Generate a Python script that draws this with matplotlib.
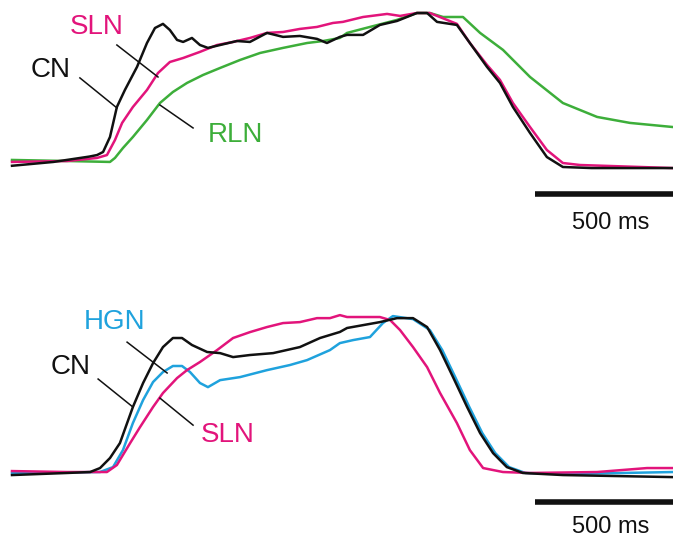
"""
Laryngeal nerve activity traces: two panels of normalised discharge vs time.

Top    — CN, SLN, RLN
Bottom — CN, HGN, SLN
Each panel has a 500 ms scale bar instead of axes.
"""

import matplotlib
matplotlib.use("Agg")
import matplotlib.pyplot as plt

plt.rcParams["font.family"] = ["Liberation Sans", "DejaVu Sans"]

# ── Colours ───────────────────────────────────────────────────────────────────
BLACK   = "#111111"
MAGENTA = "#e2147b"
GREEN   = "#3dae3a"
BLUE    = "#1fa2dd"

# ── Top panel traces (time in ms, amplitude in % of peak) ─────────────────────
TOP_CN_T = [0, 150, 280, 308, 330, 355, 380, 409, 453, 489, 518, 547, 572, 598,
            620, 652, 681, 710, 754, 815, 862, 924, 982, 1043, 1105, 1141, 1188,
            1214, 1272, 1333, 1395, 1431, 1467, 1504, 1540, 1587, 1612, 1659,
            1721, 1768, 1815, 1877, 1938, 1996, 2100, 2395]
TOP_CN_A = [-0.5, 2.0, 5.5, 6.5, 8.5, 18.3, 37.9, 49.0, 64.1, 79.7, 89.5, 92.2,
            88.2, 81.7, 80.4, 83.0, 78.4, 76.5, 78.4, 81.0, 80.4, 86.3, 83.7,
            84.3, 82.4, 79.7, 83.7, 85.0, 85.0, 91.5, 94.1, 96.7, 99.3, 99.3,
            93.5, 92.2, 91.5, 79.7, 64.1, 53.6, 37.9, 20.9, 5.2, -1.3, -2.0,
            -2.0]

TOP_SLN_T = [0, 200, 308, 344, 373, 399, 438, 489, 529, 572, 620, 681, 743, 801,
             862, 924, 982, 1043, 1105, 1163, 1199, 1272, 1359, 1406, 1467, 1514,
             1576, 1612, 1659, 1721, 1768, 1815, 1877, 1938, 1996, 2058, 2395]
TOP_SLN_A = [2.0, 2.6, 4.6, 6.5, 16.3, 27.5, 37.9, 49.0, 60.1, 67.3, 69.9, 73.9,
             78.4, 80.4, 83.0, 86.3, 86.9, 88.9, 90.2, 92.8, 93.5, 96.7, 98.7,
             97.4, 99.3, 99.3, 94.8, 92.2, 79.7, 65.4, 55.6, 40.5, 24.8, 9.8,
             1.3, 0.0, -2.0]

TOP_RLN_T = [0, 200, 355, 373, 402, 438, 489, 536, 583, 634, 692, 754, 826, 899,
             982, 1069, 1127, 1188, 1214, 1297, 1395, 1467, 1514, 1562, 1634,
             1696, 1779, 1877, 1996, 2120, 2239, 2395]
TOP_RLN_A = [3.3, 2.6, 2.0, 4.6, 11.1, 18.3, 29.4, 40.5, 47.7, 53.6, 58.8, 63.4,
             68.6, 73.2, 76.5, 79.7, 81.0, 83.0, 86.3, 90.2, 94.8, 99.3, 99.3,
             96.7, 96.7, 86.3, 75.2, 57.5, 40.5, 31.4, 27.5, 24.8]

# ── Bottom panel traces ───────────────────────────────────────────────────────
BOT_CN_T = [0, 199, 283, 319, 355, 391, 438, 475, 511, 547, 583, 616, 652, 707,
            754, 801, 862, 946, 1043, 1116, 1188, 1214, 1333, 1395, 1453, 1504,
            1551, 1598, 1649, 1696, 1743, 1793, 1851, 1996, 2395]
BOT_CN_A = [0.0, 1.3, 1.9, 4.4, 10.7, 20.1, 42.8, 57.9, 70.4, 80.5, 86.2, 86.2,
            81.8, 77.4, 76.7, 74.2, 75.5, 76.7, 80.5, 86.2, 90.0, 92.5, 96.2,
            98.7, 98.7, 93.1, 78.6, 61.6, 42.8, 26.4, 13.8, 5.0, 1.3, 0.0, -1.3]

BOT_HGN_T = [0, 319, 366, 402, 438, 475, 511, 547, 583, 616, 645, 681, 710, 754,
             826, 924, 1007, 1069, 1127, 1152, 1188, 1236, 1297, 1344, 1380,
             1453, 1514, 1559, 1606, 1657, 1704, 1751, 1801, 1860, 2000, 2395]
BOT_HGN_A = [1.3, 1.9, 5.0, 15.7, 32.7, 47.2, 58.5, 64.8, 68.6, 68.6, 64.8, 57.9,
             55.3, 59.7, 61.6, 66.0, 69.2, 72.3, 76.7, 78.6, 83.0, 84.9, 86.8,
             95.6, 100.0, 98.1, 91.2, 78.6, 61.6, 42.8, 26.4, 13.8, 5.0, 1.3,
             0.6, 1.9]

BOT_SLN_T = [0, 199, 344, 380, 428, 464, 511, 547, 598, 634, 681, 743, 801, 862,
             924, 982, 1043, 1105, 1152, 1188, 1214, 1333, 1370, 1406, 1453, 1504,
             1551, 1612, 1659, 1707, 1779, 1877, 2120, 2301, 2395]
BOT_SLN_A = [2.5, 1.9, 1.9, 6.3, 20.1, 30.2, 42.8, 51.6, 61.0, 66.0, 71.1, 78.6,
             86.2, 89.9, 93.1, 95.6, 96.2, 98.7, 98.7, 100.6, 99.4, 99.4, 97.5,
             91.2, 80.5, 67.9, 51.6, 32.7, 15.7, 4.4, 1.9, 1.3, 1.9, 4.4, 4.4]

# ── Scale bar ─────────────────────────────────────────────────────────────────
SCALE_MS    = 500
SCALE_LABEL = "500 ms"
T_END       = 2395
SCALE_TEXT_T = 2170   # centre of the "500 ms" label

# label text, colour, text position (t, a), leader line ((t0, t1), (a0, a1))
TOP_LABELS = [
    ("SLN", MAGENTA, (308, 90.2), ((380, 529), (78.4, 57.5))),
    ("CN",  BLACK,   (141, 62.0), ((246, 380), (56.9, 37.3))),
    ("RLN", GREEN,   (808, 19.6), ((536, 656), (39.2, 24.2))),
]
BOT_LABELS = [
    ("HGN", BLUE,    (370, 96.2), ((417, 562), (83.6, 64.2))),
    ("CN",  BLACK,   (213, 67.9), ((312, 438), (60.4, 42.8))),
    ("SLN", MAGENTA, (783, 25.2), ((536, 656), (48.4, 31.4))),
]


def draw_panel(ax, traces, labels, bar_a, text_a, ylim):
    for t, a, c in traces:
        ax.plot(t, a, color=c, linewidth=1.8, solid_joinstyle="round")

    for name, col, (tx, ty), (lt, la) in labels:
        ax.text(tx, ty, name, color=col, fontsize=20,
                ha="center", va="center")
        ax.plot(lt, la, color=BLACK, linewidth=1.1)

    ax.plot([T_END - SCALE_MS, T_END], [bar_a, bar_a],
            color=BLACK, linewidth=4, solid_capstyle="butt")
    ax.text(SCALE_TEXT_T, text_a, SCALE_LABEL, fontsize=17,
            ha="center", va="center", color=BLACK)

    ax.set_xlim(-43.5, T_END)
    ax.set_ylim(*ylim)
    ax.axis("off")


def main():
    fig = plt.figure(figsize=(6.73, 5.38), dpi=100)

    ax_top = fig.add_axes([0, (538 - 240) / 538, 1, 240 / 538])
    draw_panel(
        ax_top,
        [(TOP_RLN_T, TOP_RLN_A, GREEN),
         (TOP_SLN_T, TOP_SLN_A, MAGENTA),
         (TOP_CN_T, TOP_CN_A, BLACK)],
        TOP_LABELS, bar_a=-19.0, text_a=-37.9, ylim=(-49.0, 107.8),
    )

    ax_bot = fig.add_axes([0, 0, 1, 248 / 538])
    draw_panel(
        ax_bot,
        [(BOT_HGN_T, BOT_HGN_A, BLUE),
         (BOT_SLN_T, BOT_SLN_A, MAGENTA),
         (BOT_CN_T, BOT_CN_A, BLACK)],
        BOT_LABELS, bar_a=-17.0, text_a=-32.7, ylim=(-39.6, 116.4),
    )

    fig.savefig("out.png", dpi=100)
    plt.close(fig)


if __name__ == "__main__":
    main()
